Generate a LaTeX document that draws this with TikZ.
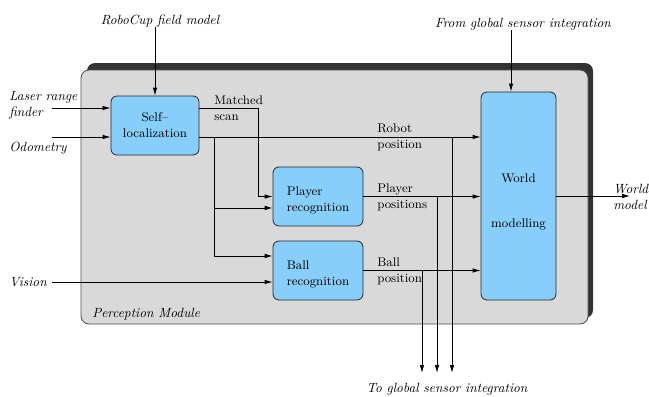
\documentclass[tikz,border=0pt]{standalone}
\usetikzlibrary{arrows.meta}
\definecolor{boxblue}{HTML}{87CEFA}
\definecolor{modgray}{HTML}{D9D9D9}
\definecolor{modshadow}{HTML}{333333}
\tikzset{
  procbox/.style={draw=black!85,fill=boxblue,rounded corners=4.5pt,line width=0.6pt,inner sep=0pt},
  extlabel/.style={font=\itshape,align=left,inner sep=0pt},
  siglabel/.style={align=left,inner sep=0pt},
  sig/.style={->,line width=0.6pt},
}
\begin{document}
\begin{tikzpicture}[x=0.75pt,y=-0.75pt,>={Latex[length=6pt,width=3.4pt]},font=\fontsize{9.4}{12}\selectfont]
\useasboundingbox (0,0) rectangle (649,396);
%% module background
  \fill [modshadow,rounded corners=6pt] (87,63) rectangle (593,318);
  \filldraw [fill=modgray,draw=black!70,line width=0.6pt,rounded corners=6pt] (81,70) rectangle (588,324);
  \node (module) at (92,314) [extlabel,anchor=west] {Perception Module};
%% processing blocks
  \node (selfloc) at (155,125.5) [procbox,align=center,minimum width=66pt,minimum height=44.25pt] {Self--\\localization};
  \node (player) at (318,196.5) [procbox,align=left,minimum width=67.5pt,minimum height=44.25pt] {\rule{0pt}{12pt}Player\\recognition};
  \node (ball) at (318,270.5) [procbox,align=left,minimum width=67.5pt,minimum height=44.25pt] {\rule{0pt}{12pt}Ball\\recognition};
  \node (world) at (518.5,196) [procbox,align=center,minimum width=56.25pt,minimum height=156pt] {\rule{0pt}{15.6pt}World\\[21.5pt]modelling};
%% external inputs and outputs
  \node (fieldmodel) at (160,21) [extlabel] {RoboCup field model};
  \node (fromglobal) at (523,24) [extlabel] {From global sensor integration};
  \node (laserlbl) at (9,105.5) [extlabel,anchor=west] {Laser range\\finder};
  \node (odolbl) at (9,148) [extlabel,anchor=west] {Odometry};
  \node (visionlbl) at (47,282) [extlabel,anchor=east] {Vision};
  \node (worldlbl) at (613,197) [extlabel,anchor=west] {World\\model};
  \node (toglobal) at (447,389) [extlabel] {To global sensor integration};
  \coordinate (laser) at (52,108);
  \coordinate (odo) at (52,137);
  \coordinate (vision) at (52,282);
  \coordinate (scanbend) at (258,108);
  \coordinate (split) at (214,137);
  \coordinate (worldout) at (630,196);
  \coordinate (drop1) at (452,373);
  \coordinate (drop2) at (437,373);
  \coordinate (drop3) at (422,373);
%% signal labels
  \node (scanlbl) at (214,108) [siglabel,anchor=west] {Matched\\scan};
  \node (robotlbl) at (377,137) [siglabel,anchor=west] {Robot\\position};
  \node (playerlbl) at (377,197) [siglabel,anchor=west] {Player\\positions};
  \node (balllbl) at (377,271) [siglabel,anchor=west] {Ball\\position};
%% connectors
  \draw [sig] (selfloc.north |- fieldmodel.south) -- (selfloc.north);
  \draw [sig] ([xshift=-9pt]fromglobal.south) -- ([xshift=-9pt]fromglobal.south |- world.north);
  \draw [sig] (laser) -- (laser -| selfloc.west);
  \draw [sig] (odo) -- (odo -| selfloc.west);
  \draw [sig] (vision) -- (vision -| ball.west);
  \draw [sig] (laser -| selfloc.east) -- (scanbend) |- (player.west);
  \draw [sig] (odo -| selfloc.east) -- (odo -| world.west);
  \draw [sig] (split) |- ([yshift=-8.6pt]player.west);
  \draw [sig] (split) |- ([yshift=10.9pt]ball.west);
  \draw [sig] (player.east) -- (player.east -| world.west);
  \draw [sig] (ball.east) -- (ball.east -| world.west);
  \draw [sig] (world.east) -- (worldout);
  \draw [sig] (drop1 |- odo) -- (drop1);
  \draw [sig] (drop2 |- player.east) -- (drop2);
  \draw [sig] (drop3 |- ball.east) -- (drop3);
%
\end{tikzpicture}
\end{document}
